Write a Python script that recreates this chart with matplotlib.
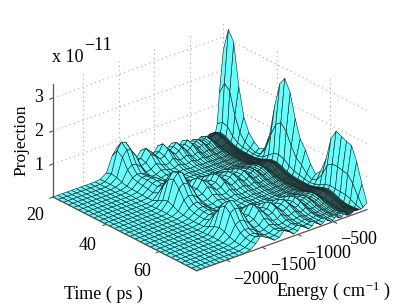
import numpy as np
import matplotlib
matplotlib.use("Agg")
import matplotlib.pyplot as plt
from mpl_toolkits.mplot3d import proj3d

plt.rcParams["font.family"] = "Liberation Serif"
plt.rcParams["mathtext.fontset"] = "custom"
plt.rcParams["mathtext.rm"] = "Liberation Serif"
plt.rcParams["mathtext.default"] = "regular"

time_ps = [20.0, 21.9, 23.9, 25.8, 27.7, 29.6, 31.6, 33.5, 35.4, 37.4, 39.3, 41.2, 43.1, 45.1, 47.0,
           48.9, 50.9, 52.8, 54.7, 56.6, 58.6, 60.5, 62.4, 64.4, 66.3, 68.2, 70.1, 72.1, 74.0]
# flat part of the surface, projection is zero here
energy_flat = [-2420, -2355, -2290, -2225, -2160, -2095, -2030, -1965, -1900, -1830]
energy = [-1760, -1670, -1590, -1530,
          -1470, -1400, -1330, -1260, -1190, -1120, -1060, -1000, -950, -900,
          -850, -800, -760, -720, -680, -640, -605, -570, -540, -510,
          -480, -455, -430, -405, -380, -360, -340, -320,
          -300, -290, -280, -270, -260, -250, -240, -230, -220, -210, -200, -190, -180, -170, -160, -150, -140,
          -115, -85, -30]

# projection in units of 1e-13, one row per time
proj = [
 [2,15,60,78, 74,52,22,26,45,34,22,26,41,30, 21,26,34,26,19,22,30,22,16,16, 20,22,19,15,16,20,22,20, 16,16,15,15,16,17,18,19,20,20,20,20,20,20,20,20,20, 44,135,260],
 [3,20,84,105, 100,72,30,35,60,45,30,35,55,40, 28,35,45,35,25,30,40,30,22,22, 26,30,25,20,22,26,30,26, 22,21,20,20,22,23,24,25,26,27,27,27,27,26,26,26,27, 56,172,330],
 [3,17,72,90, 85,61,26,30,51,38,26,30,47,34, 24,30,38,30,21,26,34,26,19,19, 22,26,21,17,19,22,26,22, 19,18,17,18,19,19,20,21,22,23,23,23,23,22,22,22,23, 51,156,300],
 [2,10,42,52, 50,36,15,18,30,22,15,18,28,20, 14,18,22,18,12,15,20,15,11,11, 13,15,12,10,11,13,15,13, 11,10,10,10,11,11,12,12,13,14,14,14,14,13,13,13,14, 30,91,175],
 [1,6,25,32, 30,22,9,10,18,14,9,10,16,12, 8,10,14,10,8,9,12,9,7,7, 8,9,8,6,7,8,9,8, 7,6,6,6,7,7,7,8,8,8,8,8,8,8,8,8,8, 18,47,90],
 [1,5,20,30, 30,24,10,8,12,10,7,7,9,7, 5,6,7,6,4,5,6,5,4,4, 4,5,4,3,4,4,5,4, 4,4,3,4,4,4,4,4,4,4,4,4,4,4,4,4,5, 12,26,50],
 [1,4,18,30, 32,27,12,8,10,8,6,6,8,6, 4,5,6,5,4,4,5,4,3,3, 4,4,3,3,3,4,4,4, 3,3,3,3,3,4,4,4,4,4,4,4,4,4,4,4,4, 10,16,30],
 [0,3,15,28, 32,28,14,8,10,9,7,7,8,6, 5,5,6,5,4,4,5,4,3,3, 4,4,3,3,3,4,4,4, 3,3,3,3,3,4,4,4,4,4,4,4,4,4,4,4,4, 8,10,18],
 [0,2,12,26, 30,28,14,10,14,12,8,8,10,8, 6,7,8,6,5,5,6,5,4,4, 4,5,4,4,4,4,5,4, 4,4,4,4,4,4,4,4,4,5,5,5,5,5,5,5,5, 9,13,25],
 [0,3,20,38, 42,32,15,13,22,17,11,12,19,14, 10,12,15,12,9,10,14,10,8,8, 9,10,9,7,8,9,10,9, 8,8,7,8,8,8,8,9,9,10,10,10,10,10,10,10,10, 16,39,75],
 [1,10,50,70, 68,48,20,21,36,28,18,21,32,24, 17,21,26,21,15,18,24,18,14,14, 17,18,15,13,14,17,18,15, 14,14,13,13,14,15,15,16,17,18,18,18,18,17,17,17,18, 29,88,170],
 [2,20,78,95, 92,62,26,28,50,38,25,28,44,32, 23,28,36,28,21,25,32,25,19,19, 23,25,21,17,19,23,25,21, 19,18,17,18,19,20,21,22,23,24,24,24,24,23,23,23,24, 42,127,245],
 [3,25,85,100, 96,66,28,30,52,40,26,30,46,34, 24,30,38,30,22,26,34,26,20,20, 24,26,22,18,20,24,26,22, 20,19,18,19,20,21,22,23,24,25,25,25,25,24,24,24,25, 46,140,270],
 [2,18,64,76, 72,50,21,23,40,30,20,23,35,26, 18,23,29,23,17,20,26,20,15,15, 18,20,17,14,15,18,20,17, 15,15,14,14,15,16,17,17,18,19,19,19,19,18,18,18,19, 40,122,235],
 [1,10,38,46, 44,31,13,14,24,18,12,14,21,16, 11,14,17,14,10,12,16,12,9,9, 11,12,10,8,9,11,12,10, 9,9,8,8,9,9,10,10,11,12,12,12,12,11,11,11,12, 28,86,165],
 [1,6,20,30, 30,20,9,9,16,12,8,9,14,10, 7,9,11,9,7,8,10,8,6,6, 7,8,7,5,6,7,8,7, 6,6,5,5,6,6,7,7,7,8,8,8,8,7,7,7,8, 20,57,110],
 [0,4,15,24, 25,18,8,7,11,9,6,7,10,7, 5,6,8,6,5,6,7,6,4,4, 5,6,5,4,4,5,6,5, 4,4,4,4,4,4,5,5,5,6,6,6,6,5,5,5,6, 16,44,85],
 [0,3,12,22, 24,16,8,6,10,8,5,6,9,7, 5,6,7,6,4,5,6,5,4,4, 4,5,4,3,4,4,5,4, 4,4,3,3,4,4,4,4,4,5,5,5,5,5,5,5,5, 12,26,50],
 [0,3,12,21, 21,14,7,6,11,9,6,6,10,7, 5,6,8,6,4,5,7,5,4,4, 5,5,4,4,4,5,5,4, 4,4,4,4,4,4,4,4,5,5,5,5,5,5,5,5,5, 9,15,28],
 [0,4,18,28, 28,18,8,9,17,13,8,9,14,10, 7,8,11,8,6,7,10,7,5,5, 7,8,6,5,5,7,8,6, 5,5,5,5,5,5,6,6,7,7,7,7,7,7,7,7,7, 12,23,45],
 [1,12,45,52, 50,34,14,16,31,23,14,16,25,18, 12,15,21,15,11,13,19,13,10,10, 12,14,11,9,10,12,14,11, 10,10,9,9,10,10,11,11,12,12,12,12,12,12,12,12,13, 18,47,90],
 [2,20,72,81, 76,50,22,26,48,36,22,26,38,28, 19,24,32,24,17,20,29,20,15,15, 19,21,17,14,15,19,21,17, 15,15,14,14,15,16,17,18,19,19,19,19,19,19,19,19,20, 27,83,160],
 [3,25,84,95, 90,60,26,30,57,42,26,30,45,33, 22,28,38,28,20,24,34,24,18,18, 22,25,20,16,18,22,25,20, 18,17,16,17,18,19,20,21,22,22,22,22,22,22,22,22,23, 32,95,190],
 [2,20,70,80, 76,50,22,26,48,36,22,26,38,28, 19,24,32,24,17,20,29,20,15,15, 19,21,17,14,15,19,21,17, 15,15,14,14,15,16,17,18,19,19,19,19,19,19,19,19,20, 30,95,182],
 [1,12,43,50, 48,33,14,16,31,23,14,16,25,18, 12,15,21,15,11,13,19,13,10,10, 12,14,11,9,10,12,14,11, 10,10,9,9,10,10,11,11,12,12,12,12,12,12,12,12,13, 29,91,175],
 [1,7,26,32, 30,21,9,10,20,15,9,10,16,12, 8,10,13,10,7,8,12,8,6,6, 8,9,7,6,6,8,9,7, 6,6,6,6,6,6,7,7,8,8,8,8,8,8,8,8,8, 28,88,170],
 [0,5,18,24, 24,16,7,8,16,12,7,8,13,9, 6,8,11,8,6,7,10,7,5,5, 6,7,6,4,5,6,7,6, 5,5,4,4,5,5,6,6,6,6,6,6,6,6,6,6,6, 22,68,130],
 [0,4,16,26, 26,16,8,9,17,13,8,9,14,10, 7,8,11,8,6,7,10,7,5,5, 7,8,6,5,5,7,8,6, 5,5,5,5,5,5,6,6,7,7,7,7,7,7,7,7,7, 14,36,70],
 [1,5,18,34, 36,20,8,11,28,18,6,11,25,14, 5,10,22,11,4,8,19,8,4,4, 11,16,6,4,6,12,16,6, 4,4,4,4,5,6,7,8,9,10,10,10,10,9,9,9,9, 8,12,20],
]

time_ticks = [20, 40, 60]
energy_ticks = [-2000, -1500, -1000, -500]
proj_ticks = [1, 2, 3]
zmax = 3.42

W, H = 407, 306
fig = plt.figure(figsize=(W / 100, H / 100), dpi=100)
ax = fig.add_axes([0, 0, 1, 1], projection="3d", computed_zorder=False)
ax.set_proj_type("ortho")
ax.view_init(elev=25.4, azim=-39.9)
ax.set_box_aspect((224, 222, 125))
ax.set_xlim(time_ps[0], time_ps[-1])
ax.set_ylim(energy_flat[0], energy[-1])
ax.set_zlim(0, zmax)
ax.set_axis_off()

t0, t1, e0, e1 = time_ps[0], time_ps[-1], energy_flat[0], energy[-1]
axis_col = "#555555"
grid = dict(color="#aaaaaa", lw=0.8, ls=(0, (1, 3)), zorder=1)

# back walls
for z in proj_ticks:
    ax.plot([t0, t0], [e0, e1], [z, z], **grid)
    ax.plot([t0, t1], [e1, e1], [z, z], **grid)
for e in energy_ticks:
    ax.plot([t0, t0], [e, e], [0, zmax], **grid)
for t in time_ticks[1:]:
    ax.plot([t, t], [e1, e1], [0, zmax], **grid)
ax.plot([t0, t0], [e1, e1], [0, zmax], **grid)
ax.plot([t0, t1], [e1, e1], [0, 0], **grid)

T, E = np.meshgrid(time_ps, energy_flat + energy, indexing="ij")
Z = np.hstack([np.zeros((len(time_ps), len(energy_flat))), np.array(proj)]) / 100.0
ax.plot_surface(T, E, Z, rstride=1, cstride=1, color="#66ffff", edgecolor="#1a2222",
                linewidth=0.42, shade=False, antialiased=True, zorder=2)

# axis lines and ticks
ax.plot([t0, t0], [e0, e0], [0, zmax], color=axis_col, lw=0.9, zorder=3)
ax.plot([t0, t1], [e0, e0], [0, 0], color=axis_col, lw=0.9, zorder=3)
ax.plot([t1, t1], [e0, e1], [0, 0], color=axis_col, lw=0.9, zorder=3)
for z in proj_ticks:
    ax.plot([t0, t0], [e0, e0 - 45], [z, z], color=axis_col, lw=0.8, zorder=3)
for t in time_ticks:
    ax.plot([t, t], [e0, e0 - 45], [0, 0], color=axis_col, lw=0.8, zorder=3)
for e in energy_ticks:
    ax.plot([t1, t1 + 1.2], [e, e], [0, 0], color=axis_col, lw=0.8, zorder=3)

# fit the box onto the picture: left corner and right corner in pixels
def to_px(p):
    x, y, _ = proj3d.proj_transform(p[0], p[1], p[2], ax.get_proj())
    return ax.transData.transform((x, y))

S, cx, cy = 400.0, W / 2, H / 2
ax.set_position([(cx - S / 2) / W, (cy - S / 2) / H, S / W, S / H])
fig.canvas.draw()
a = to_px((t0, e0, 0))
b = to_px((t1, e1, 0))
S = S * (367 - 53) / (b[0] - a[0])
ax.set_position([(cx - S / 2) / W, (cy - S / 2) / H, S / W, S / H])
fig.canvas.draw()
a = to_px((t0, e0, 0))
cx += 53 - a[0]
cy += (H - 197) - a[1]
ax.set_position([(cx - S / 2) / W, (cy - S / 2) / H, S / W, S / H])

def label(x, y, s, **kw):
    kw.setdefault("fontsize", 13)
    fig.text(x / W, 1 - y / H, s, ha="center", va="center", **kw)

for v, y in zip(proj_ticks, [165, 132, 98]):
    label(39, y, str(v))
for v, x, y in zip(time_ticks, [35, 88, 142], [216, 245, 271]):
    label(x, y, str(v))
for v, x, y in zip(energy_ticks, [256, 293, 328, 359], [279, 266, 253, 240]):
    label(x, y, str(v).replace("-", "\u2212"))

label(21, 140, "Projection", rotation=90, fontsize=12.5)
label(103, 294, "Time ( ps )")
label(333, 291, "Energy ( cm$^{-1}$ )")
label(68, 58, "x 10")
label(98, 46, "\u221211")

fig.savefig("out.png", dpi=100)
